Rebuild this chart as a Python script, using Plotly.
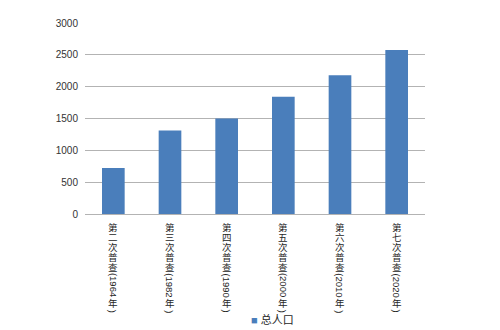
import plotly.graph_objects as go

categories = ["第二次普查(1964年)", "第三次普查(1982年)", "第四次普查(1990年)",
              "第五次普查(2000年)", "第六次普查(2010年)", "第七次普查(2020年)"]
population = [722, 1310, 1500, 1842, 2178, 2576]
series_name = "总人口"
y_ticks = [0, 500, 1000, 1500, 2000, 2500, 3000]

FONT = "Liberation Sans, Arial, Noto Sans CJK SC, sans-serif"
BAR = "#4a7ebb"

fig = go.Figure()
fig.add_trace(go.Bar(x=categories, y=population, name=series_name,
                     marker=dict(color=BAR, line=dict(width=0)),
                     showlegend=False))


def is_cjk(ch):
    return ord(ch) > 0x2E80


# Excel-style stacked vertical category labels: CJK upright, digits rotated
annotations = []
for cat in categories:
    segs = []
    buf = ""
    for ch in cat:
        if is_cjk(ch):
            if buf:
                segs.append((buf, False))
                buf = ""
            segs.append((ch, True))
        else:
            buf += ch
    if buf:
        segs.append((buf, False))
    pos = 8.0
    for text, upright in segs:
        length = 10.0 if upright else 5.3 * len(text)
        center = pos + length / 2
        annotations.append(dict(
            x=cat, xref="x", y=0, yref="paper", yshift=-center,
            text=text, showarrow=False, textangle=0 if upright else 90,
            xanchor="center", yanchor="middle",
            font=dict(family=FONT, size=9.5 if upright else 9.5,
                      color="#262626")))
        pos += length

# legend drawn as a text key below the plot
annotations.append(dict(
    x=(272 - 85) / 340, xref="paper", y=(214 - 319) / 191, yref="paper",
    showarrow=False,
    text=f'<span style="color:{BAR}">■</span> {series_name}',
    xanchor="center", yanchor="middle",
    font=dict(family=FONT, size=11, color="#262626")))

fig.update_layout(
    width=500, height=330,
    margin=dict(l=85, r=75, t=23, b=116),
    paper_bgcolor="white", plot_bgcolor="white",
    bargap=0.6,
    showlegend=False,
    font=dict(family=FONT, size=10, color="#333333"),
    annotations=annotations,
    xaxis=dict(showticklabels=False, showgrid=False, zeroline=False,
               showline=False, ticks=""),
    yaxis=dict(range=[0, 3000], tickvals=y_ticks, showgrid=True,
               gridcolor="#b3b3b3", gridwidth=1, zeroline=True,
               zerolinecolor="#b3b3b3", zerolinewidth=1, showline=False,
               ticks="", ticklabelstandoff=6,
               tickfont=dict(size=10, color="#333333")),
)

fig.write_html("out.html")
